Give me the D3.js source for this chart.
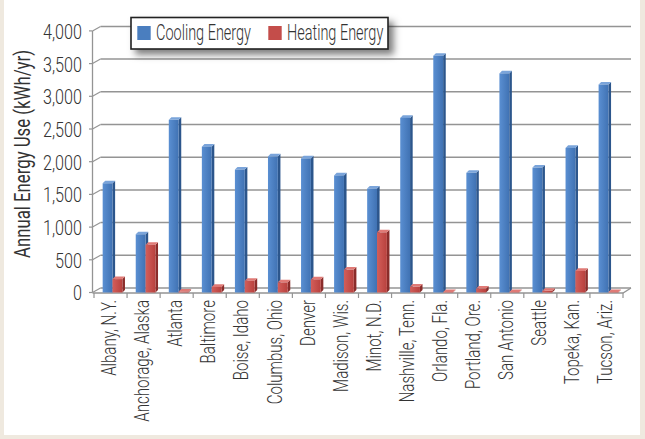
<!DOCTYPE html>
<html><head><meta charset="utf-8">
<script src="https://cdn.jsdelivr.net/npm/d3@7"></script>
<style>
html,body{margin:0;padding:0;background:#efe9df;}
svg{display:block;}
text{font-family:Roboto,"Liberation Sans Narrow","DejaVu Sans Condensed",sans-serif;font-weight:300;fill:#333;}
</style></head>
<body>
<svg id="chart" width="645" height="439"></svg>
<script>
const categories = ["Albany, N.Y.", "Anchorage, Alaska", "Atlanta", "Baltimore", "Boise, Idaho", "Columbus, Ohio", "Denver", "Madison, Wis.", "Minot, N.D.", "Nashville, Tenn.", "Orlando, Fla.", "Portland, Ore.", "San Antonio", "Seattle", "Topeka, Kan.", "Tucson, Ariz."];
const cooling = [1670, 890, 2640, 2230, 1880, 2080, 2050, 1790, 1590, 2670, 3620, 1830, 3350, 1910, 2210, 3180];
const heating = [205, 730, 15, 85, 180, 155, 200, 350, 920, 90, 5, 60, 5, 25, 330, 5];
const seriesNames = ["Cooling Energy", "Heating Energy"];
const yTicks = [0, 500, 1000, 1500, 2000, 2500, 3000, 3500, 4000];
const yTitle = "Annual Energy Use (kWh/yr)";

const svg = d3.select("#chart");
const defs = svg.append("defs");

// panel
svg.append("rect").attr("x",4).attr("y",0).attr("width",636).attr("height",435).attr("fill","#fff");

// geometry
const xFront0 = 92.5, xFront1 = 623;
const wallDx = 8, wallDy = -4.5;
const y = d3.scaleLinear().domain([0,4000]).range([292.5, 30.9]);
const x0 = d3.scaleBand().domain(categories).range([94, 623]).paddingInner(0).paddingOuter(0);
const bw = x0.bandwidth();
const x1 = d3.scaleBand().domain(seriesNames).range([bw*0.262, bw*0.858]).padding(0);

// gradients
function grad(id, c1, c2){
  const g = defs.append("linearGradient").attr("id",id).attr("x1","0").attr("x2","1").attr("y1","0").attr("y2","0");
  g.append("stop").attr("offset","0").attr("stop-color",c1);
  g.append("stop").attr("offset","1").attr("stop-color",c2);
}
grad("gBlue","#5a8fd2","#4072b3");
grad("gRed","#d35e5a","#b8413e");
const styles = {
  "Cooling Energy": {front:"url(#gBlue)", side:"#2c568c", top:"#7aa4da", legend:"#4a7ebf"},
  "Heating Energy": {front:"url(#gRed)", side:"#8a2c2a", top:"#e07a76", legend:"#c44d4a"}
};

// drop shadow for legend
const f = defs.append("filter").attr("id","shadow").attr("x","-10%").attr("y","-30%").attr("width","130%").attr("height","190%");
f.append("feDropShadow").attr("dx",5).attr("dy",5).attr("stdDeviation",3.5).attr("flood-color","#000").attr("flood-opacity",0.5);

const gridColor = "#949494";
const grid = svg.append("g");
// back wall gridlines
grid.selectAll("line.bw").data(yTicks).join("line")
  .attr("x1", xFront0 + wallDx).attr("x2", xFront1 + wallDx)
  .attr("y1", d => y(d) + wallDy).attr("y2", d => y(d) + wallDy)
  .attr("stroke", gridColor).attr("stroke-width", 1.5);
// side wall diagonals
grid.selectAll("line.sw").data(yTicks).join("line")
  .attr("x1", xFront0).attr("x2", xFront0 + wallDx)
  .attr("y1", d => y(d)).attr("y2", d => y(d) + wallDy)
  .attr("stroke", gridColor).attr("stroke-width", 1.2);
// left axis line
grid.append("line").attr("x1",xFront0).attr("x2",xFront0).attr("y1",y(4000)).attr("y2",y(0))
  .attr("stroke",gridColor).attr("stroke-width",1.3);
// left ticks
grid.selectAll("line.lt").data(yTicks).join("line")
  .attr("x1", xFront0-3.5).attr("x2", xFront0)
  .attr("y1", d => y(d)).attr("y2", d => y(d))
  .attr("stroke", gridColor).attr("stroke-width", 1.2);
// floor front edge + right edge
grid.append("path")
  .attr("d", `M${xFront0},${y(0)+0.5}L${xFront1},${y(0)+0.5}L${xFront1+wallDx},${y(0)+wallDy}`)
  .attr("fill","none").attr("stroke",gridColor).attr("stroke-width",1.3);
// category boundary ticks
const bounds = categories.map(c => x0(c)).concat([x0.range()[1]]);
grid.selectAll("line.ct").data(bounds).join("line")
  .attr("x1", d => d).attr("x2", d => d)
  .attr("y1", y(0)+0.5).attr("y2", y(0)+5.5)
  .attr("stroke", gridColor).attr("stroke-width", 1.2);

// bars
const bdx = 2.6, bdy = -2.6;
const rows = categories.map((c,i) => ({cat:c, vals:[{s:seriesNames[0], v:cooling[i]},{s:seriesNames[1], v:heating[i]}]}));
const bars = svg.append("g");
rows.forEach(r => {
  const g = bars.append("g").attr("transform", `translate(${x0(r.cat)},0)`);
  r.vals.forEach(d => {
    const xa = x1(d.s), xb = xa + x1.bandwidth();
    const yt = y(d.v), yb = y(0);
    const st = styles[d.s];
    g.append("path").attr("d", `M${xb},${yt}L${xb+bdx},${yt+bdy}L${xb+bdx},${yb+bdy}L${xb},${yb}Z`).attr("fill", st.side);
    g.append("path").attr("d", `M${xa},${yt}L${xa+bdx},${yt+bdy}L${xb+bdx},${yt+bdy}L${xb},${yt}Z`).attr("fill", st.top);
    g.append("rect").attr("x", xa).attr("y", yt).attr("width", xb-xa).attr("height", Math.max(0, yb-yt)).attr("fill", st.front);
  });
});

// condense helper
function condense(sel, refNode, target){
  const factor = target / refNode.getComputedTextLength();
  sel.each(function(){
    const L = this.getComputedTextLength();
    d3.select(this).attr("textLength", L*factor).attr("lengthAdjust","spacingAndGlyphs");
  });
}

// y tick labels
const yl = svg.append("g").selectAll("text").data(yTicks).join("text")
  .attr("x", 82).attr("y", d => y(d) + 0.8).attr("dy","0.35em")
  .attr("text-anchor","end").attr("font-size", 20.5)
  .text(d => d3.format(",")(d));
condense(yl, yl.nodes()[8], 39);

// y title
const yt = svg.append("text")
  .attr("transform", "translate(29.5,154) rotate(-90)")
  .attr("text-anchor","middle").attr("font-size", 21.5)
  .style("font-family", "'Liberation Sans Narrow', Roboto, sans-serif").style("font-weight", 400)
  .text(yTitle);
condense(yt, yt.node(), 208);

// category labels
const cl = svg.append("g").selectAll("text").data(categories).join("text")
  .attr("transform", d => `translate(${x0(d)+bw/2+5.7},300) rotate(-90)`)
  .attr("text-anchor","end").attr("font-size", 21)
  .text(d => d);
condense(cl, cl.nodes()[1], 121.7);

// legend
const lg = svg.append("g");
lg.append("rect").attr("x",131).attr("y",17.5).attr("width",257).attr("height",31.5)
  .attr("fill","#fff").attr("stroke","#222").attr("stroke-width",1.6).attr("filter","url(#shadow)");
const legendX = [137.3, 268.3];
const lt = [];
seriesNames.forEach((s,i) => {
  lg.append("rect").attr("x",legendX[i]).attr("y",26).attr("width",13.4).attr("height",14).attr("fill",styles[s].legend);
  lt.push(lg.append("text").attr("x",legendX[i]+18.7).attr("y",39.5).attr("font-size",22).text(s).node());
});
condense(d3.selectAll(lt), lt[0], 95);
</script>
</body></html>
